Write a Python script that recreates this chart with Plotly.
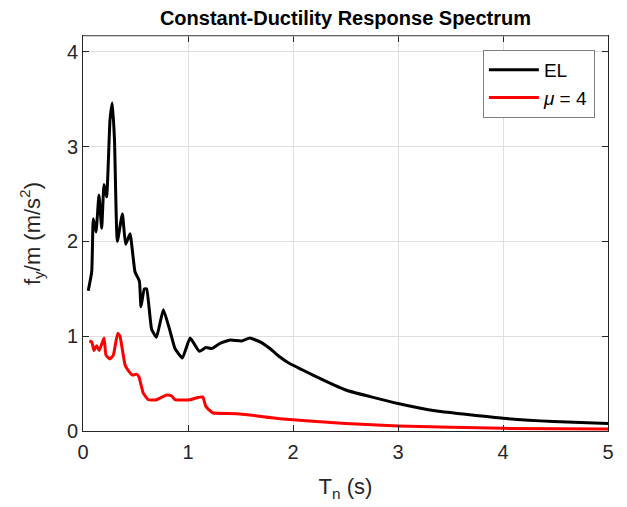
import plotly.graph_objects as go

# EL (elastic) spectrum
el_T = [0.05, 0.083, 0.098, 0.124, 0.152, 0.178, 0.20, 0.225, 0.257, 0.279, 0.30, 0.327,
        0.375, 0.406, 0.448, 0.495, 0.537, 0.552, 0.584, 0.606, 0.654, 0.70, 0.765, 0.83,
        0.876, 0.946, 1.02, 1.108, 1.17, 1.225, 1.305, 1.40, 1.51, 1.59, 1.686, 1.78,
        1.876, 1.94, 2.19, 2.51, 3.0, 3.37, 4.0, 4.48, 5.0]
el_S = [1.48, 1.68, 2.24, 2.10, 2.49, 2.14, 2.60, 2.47, 3.28, 3.46, 3.07, 2.00,
        2.29, 1.97, 2.08, 1.68, 1.58, 1.31, 1.50, 1.50, 1.07, 0.99, 1.28, 1.05,
        0.87, 0.77, 0.98, 0.84, 0.88, 0.87, 0.925, 0.96, 0.95, 0.98, 0.94, 0.87,
        0.78, 0.73, 0.59, 0.43, 0.29, 0.21, 0.134, 0.10, 0.08]

# Inelastic spectrum, mu = 4
mu_T = [0.06, 0.083, 0.105, 0.13, 0.155, 0.20, 0.219, 0.257, 0.289, 0.33, 0.352, 0.40,
        0.43, 0.473, 0.51, 0.533, 0.574, 0.622, 0.70, 0.797, 0.845, 0.876, 1.02, 1.083,
        1.14, 1.17, 1.225, 1.24, 1.495, 1.876, 2.5, 3.0, 4.0, 5.0]
mu_S = [0.95, 0.94, 0.85, 0.90, 0.85, 0.98, 0.80, 0.76, 0.80, 1.03, 1.00, 0.70,
        0.64, 0.59, 0.60, 0.57, 0.40, 0.33, 0.33, 0.38, 0.37, 0.33, 0.33, 0.35,
        0.36, 0.26, 0.20, 0.19, 0.18, 0.13, 0.08, 0.053, 0.028, 0.02]

x_ticks = [0, 1, 2, 3, 4, 5]
y_ticks = [0, 1, 2, 3, 4]

FONT = "Liberation Sans, Arial, sans-serif"

fig = go.Figure()
fig.add_trace(go.Scatter(x=el_T, y=el_S, mode="lines", name="EL",
                         line=dict(color="black", width=3, shape="spline", smoothing=0.4)))
fig.add_trace(go.Scatter(x=mu_T, y=mu_S, mode="lines", name="<i>μ</i> = 4",
                         line=dict(color="#ff0000", width=3, shape="spline", smoothing=0.4)))

axis_common = dict(
    showline=True, linecolor="#262626", linewidth=1, mirror="ticks",
    ticks="inside", ticklen=6, tickcolor="#262626",
    showgrid=True, gridcolor="#dfdfdf", gridwidth=1, zeroline=False,
    tickfont=dict(family=FONT, size=20, color="#262626"),
)

fig.update_xaxes(range=[0, 5], tickvals=x_ticks, ticktext=[str(v) for v in x_ticks],
                 ticklabelstandoff=3,
                 title=dict(text="T<sub>n</sub> (s)", font=dict(family=FONT, size=22, color="#262626"),
                            standoff=16),
                 **axis_common)
fig.update_yaxes(range=[0, 4.167], tickvals=y_ticks, ticktext=[str(v) for v in y_ticks],
                 title=dict(text="f<sub>y</sub>/m (m/s<sup>2</sup>)",
                            font=dict(family=FONT, size=22, color="#262626"), standoff=20),
                 **axis_common)

fig.update_layout(
    width=627, height=507,
    margin=dict(l=83, r=19, t=36, b=76),
    paper_bgcolor="white", plot_bgcolor="white",
    title=dict(text="<b>Constant-Ductility Response Spectrum</b>", x=0.551, xanchor="center",
               y=0.964, yanchor="middle",
               font=dict(family=FONT, size=20, color="black")),
    showlegend=True,
    legend=dict(x=0.975, y=0.965, xanchor="right", yanchor="top",
                bgcolor="white", bordercolor="#7f7f7f", borderwidth=1,
                font=dict(family=FONT, size=19, color="black"),
                itemwidth=50, tracegroupgap=0),
)

# lighter top border like the reference
fig.add_shape(type="line", xref="paper", yref="paper", x0=0, x1=1, y0=1, y1=1,
              line=dict(color="#a0a0a0", width=1), layer="above")

fig.write_html("out.html")
